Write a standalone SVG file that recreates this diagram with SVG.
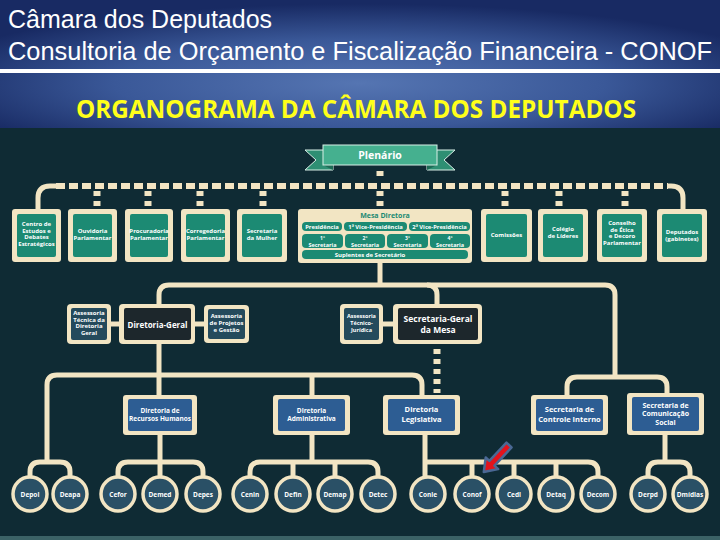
<svg xmlns="http://www.w3.org/2000/svg" width="720" height="540" viewBox="0 0 720 540">
<defs>
<radialGradient id="hdr" cx="50%" cy="65%" r="62%" fx="50%" fy="65%">
<stop offset="0" stop-color="#5575b2"/>
<stop offset="0.55" stop-color="#3a5898"/>
<stop offset="1" stop-color="#182a63"/>
</radialGradient>
<style>
.cr{fill:#f2e5c3}
.tl{fill:#1c8a73}
.sl{fill:#244a5c}
.dk{fill:#1d272c}
.bl{fill:#2d5d93}
.ln{fill:none;stroke:#f2e5c3;stroke-width:5;stroke-linecap:butt}
.dh{fill:none;stroke:#f2e5c3;stroke-width:6;stroke-dasharray:9 4}
.dv{fill:none;stroke:#f2e5c3;stroke-width:7;stroke-dasharray:5 5}
.cc{fill:#2a5066;stroke:#f2e5c3;stroke-width:3.5}
.t{font-family:"Open Sans","Liberation Sans",sans-serif;font-weight:bold;fill:#ffffff;text-anchor:middle}
.s5{font-size:5px}
.s6{font-size:6px}
.s7{font-size:7px}
.tt{font-family:"Open Sans","Liberation Sans",sans-serif;font-weight:bold;fill:#1c8a73;text-anchor:middle}
</style>
</defs>
<rect x="0" y="0" width="720" height="540" fill="#0f2b34"/>
<rect x="0" y="0" width="720" height="128" fill="url(#hdr)"/>
<rect x="0" y="69" width="720" height="4" fill="#ffffff"/>
<rect x="0" y="536" width="720" height="4" fill="#3b6266"/>
<text x="8" y="28" font-family="Liberation Sans, Arial, sans-serif" font-size="25" fill="#ffffff">Câmara dos Deputados</text>
<text x="8" y="60" font-family="Liberation Sans, Arial, sans-serif" font-size="25" fill="#ffffff" textLength="704" lengthAdjust="spacingAndGlyphs">Consultoria de Orçamento e Fiscalização Financeira - CONOF</text>
<text x="76" y="118" font-family="Open Sans, Liberation Sans, sans-serif" font-weight="bold" font-size="25" fill="#ffff1a" textLength="560" lengthAdjust="spacingAndGlyphs">ORGANOGRAMA DA CÂMARA DOS DEPUTADOS</text>

<g id="connectors">
<path class="dh" d="M56,186 H668"/>
<path class="ln" d="M38,210 V198 Q38,186 50,186 H56" stroke-width="6"/>
<path class="ln" d="M683,210 V198 Q683,186 671,186 H668" stroke-width="6"/>
<path class="dv" d="M380,171 V181 M380,191 V209"/>
<path class="dv" d="M97,191 V209 M148,191 V209 M200,191 V209 M263,191 V209 M505,191 V209 M559,191 V209 M625,191 V209"/>
<path class="ln" d="M380,263 V285"/>
<path class="ln" d="M159,304 V295 Q159,285 169,285 H605 Q615,285 615,295 V377"/>
<path class="ln" d="M427,285 Q437,285 437,295 V304"/>
<path class="ln" d="M567,395 V387 Q567,377 577,377 H657 Q667,377 667,387 V395"/>
<path class="ln" d="M111,324 H119 M195,324 H204 M383,324 H393"/>
<path class="dv" d="M437,349 V393" stroke-width="6" stroke-dasharray="5 3"/>
<path class="ln" d="M159,344 V395"/>
<path class="ln" d="M47,462 V385 Q47,375 57,375 H412 Q422,375 422,385 V395"/>
<path class="ln" d="M312,375 V395"/>
<path class="ln" d="M30,477 V472 Q30,462 40,462 H60 Q70,462 70,472 V477"/>
<path class="ln" d="M160,435 V477 M118,477 V472 Q118,462 128,462 H193 Q203,462 203,472 V477"/>
<path class="ln" d="M312,435 V462 M250,477 V472 Q250,462 260,462 H368 Q378,462 378,472 V477 M293,462 V477 M335,462 V477"/>
<path class="ln" d="M425,435 V477 M425,462 H588 Q598,462 598,472 V477 M472,462 V477 M514,462 V477 M556,462 V477"/>
<path class="ln" d="M665,435 V462 M648,477 V472 Q648,462 658,462 H680 Q690,462 690,472 V477"/>
</g>

<g id="plenario">
<polygon points="305,150 333,150 333,170 305,170 316,160" fill="#2e8f73" stroke="#d8efe6" stroke-width="1"/>
<polygon points="455,150 427,150 427,170 455,170 444,160" fill="#2e8f73" stroke="#d8efe6" stroke-width="1"/>
<polygon points="323,165 333,170 333,165" fill="#1d6a55"/>
<polygon points="437,165 427,170 427,165" fill="#1d6a55"/>
<rect x="323" y="145" width="114" height="20" fill="#45b08f" stroke="#d8efe6" stroke-width="1"/>
<text class="t" x="380" y="159" font-size="10.5">Plenário</text>
</g>

<g id="centro-estudos">
<rect class="cr" x="12" y="209" width="49" height="53" rx="3"/>
<rect class="tl" x="17" y="214" width="39" height="43" rx="2"/>
<text class="t s6"><tspan x="36.5" y="226">Centro de</tspan><tspan x="36.5" y="232.5">Estudos e</tspan><tspan x="36.5" y="239">Debates</tspan><tspan x="36.5" y="245.5">Estratégicos</tspan></text>
</g>
<g id="ouvidoria">
<rect class="cr" x="68" y="209" width="49" height="53" rx="3"/>
<rect class="tl" x="73" y="214" width="39" height="43" rx="2"/>
<text class="t s6"><tspan x="92.5" y="233">Ouvidoria</tspan><tspan x="92.5" y="239.5">Parlamentar</tspan></text>
</g>
<g id="procuradoria">
<rect class="cr" x="125" y="209" width="48" height="53" rx="3"/>
<rect class="tl" x="130" y="214" width="38" height="43" rx="2"/>
<text class="t s6"><tspan x="149" y="233">Procuradoria</tspan><tspan x="149" y="239.5">Parlamentar</tspan></text>
</g>
<g id="corregedoria">
<rect class="cr" x="181" y="209" width="49" height="53" rx="3"/>
<rect class="tl" x="186" y="214" width="39" height="43" rx="2"/>
<text class="t s6"><tspan x="205.5" y="233">Corregedoria</tspan><tspan x="205.5" y="239.5">Parlamentar</tspan></text>
</g>
<g id="secretaria-mulher">
<rect class="cr" x="237" y="209" width="50" height="53" rx="3"/>
<rect class="tl" x="242" y="214" width="40" height="43" rx="2"/>
<text class="t s6"><tspan x="262" y="233">Secretaria</tspan><tspan x="262" y="239.5">da Mulher</tspan></text>
</g>

<g id="mesa-diretora">
<rect class="cr" x="298" y="209" width="174" height="54" rx="3"/>
<text class="tt s7" x="385" y="218">Mesa Diretora</text>
<rect class="tl" x="302" y="222" width="40" height="9" rx="4"/>
<rect class="tl" x="344" y="222" width="63" height="9" rx="4"/>
<rect class="tl" x="409" y="222" width="61" height="9" rx="4"/>
<text class="t" font-size="5.8" x="322" y="229">Presidência</text>
<text class="t" font-size="5.8" x="375.5" y="229">1ª Vice-Presidência</text>
<text class="t" font-size="5.8" x="439.5" y="229">2ª Vice-Presidência</text>
<rect class="tl" x="302" y="234" width="41" height="14" rx="4"/>
<rect class="tl" x="345" y="234" width="40" height="14" rx="4"/>
<rect class="tl" x="387" y="234" width="41" height="14" rx="4"/>
<rect class="tl" x="430" y="234" width="40" height="14" rx="4"/>
<text class="t s5" x="322.5" y="239.5">1ª</text><text class="t" font-size="5.5" x="322.5" y="246.5">Secretaria</text>
<text class="t s5" x="365" y="239.5">2ª</text><text class="t" font-size="5.5" x="365" y="246.5">Secretaria</text>
<text class="t s5" x="407.5" y="239.5">3ª</text><text class="t" font-size="5.5" x="407.5" y="246.5">Secretaria</text>
<text class="t s5" x="450" y="239.5">4ª</text><text class="t" font-size="5.5" x="450" y="246.5">Secretaria</text>
<rect class="tl" x="302" y="250" width="166" height="9" rx="4"/>
<text class="t s6" x="370" y="257">Suplentes de Secretário</text>
</g>

<g id="comissoes">
<rect class="cr" x="481" y="209" width="51" height="53" rx="3"/>
<rect class="tl" x="486" y="214" width="41" height="43" rx="2"/>
<text class="t s6" x="506.5" y="236.5">Comissões</text>
</g>
<g id="colegio-lideres">
<rect class="cr" x="538" y="209" width="50" height="53" rx="3"/>
<rect class="tl" x="543" y="214" width="40" height="43" rx="2"/>
<text class="t s6"><tspan x="563" y="231">Colégio</tspan><tspan x="563" y="237.5">de Líderes</tspan></text>
</g>
<g id="conselho-etica">
<rect class="cr" x="597" y="209" width="50" height="53" rx="3"/>
<rect class="tl" x="602" y="214" width="40" height="43" rx="2"/>
<text class="t s6"><tspan x="622" y="225">Conselho</tspan><tspan x="622" y="231.5">de Ética</tspan><tspan x="622" y="238">e Decoro</tspan><tspan x="622" y="244.5">Parlamentar</tspan></text>
</g>
<g id="deputados">
<rect class="cr" x="657" y="209" width="50" height="53" rx="3"/>
<rect class="tl" x="662" y="214" width="40" height="43" rx="2"/>
<text class="t s6"><tspan x="682" y="234">Deputados</tspan><tspan x="682" y="241">(gabinetes)</tspan></text>
</g>

<g id="assessoria-tecnica-dg">
<rect class="cr" x="67" y="304" width="44" height="40" rx="4"/>
<rect class="sl" x="71" y="308" width="36" height="32" rx="2"/>
<text class="t s6"><tspan x="89" y="315">Assessoria</tspan><tspan x="89" y="321.5">Técnica da</tspan><tspan x="89" y="328">Diretoria</tspan><tspan x="89" y="334.5">Geral</tspan></text>
</g>
<g id="diretoria-geral">
<rect class="cr" x="119" y="304" width="76" height="40" rx="4"/>
<rect class="dk" x="124" y="308" width="67" height="32" rx="2"/>
<text class="t" x="157.5" y="327.5" font-size="8.5" textLength="60" lengthAdjust="spacingAndGlyphs">Diretoria-Geral</text>
</g>
<g id="assessoria-projetos">
<rect class="cr" x="204" y="305" width="45" height="38" rx="4"/>
<rect class="sl" x="208" y="309" width="37" height="30" rx="2"/>
<text class="t s6"><tspan x="226.5" y="318">Assessoria</tspan><tspan x="226.5" y="325">de Projetos</tspan><tspan x="226.5" y="332">e Gestão</tspan></text>
</g>
<g id="assessoria-tecnico-juridica">
<rect class="cr" x="340" y="304" width="43" height="40" rx="4"/>
<rect class="sl" x="344" y="308" width="35" height="32" rx="2"/>
<text class="t" font-size="5.5"><tspan x="361.5" y="318">Assessoria</tspan><tspan x="361.5" y="325">Técnico-</tspan><tspan x="361.5" y="332">Jurídica</tspan></text>
</g>
<g id="secretaria-geral-mesa">
<rect class="cr" x="393" y="304" width="89" height="40" rx="4"/>
<rect class="dk" x="398" y="308" width="80" height="32" rx="2"/>
<text class="t" font-size="8.5"><tspan x="438" y="322">Secretaria-Geral</tspan><tspan x="438" y="333">da Mesa</tspan></text>
</g>

<g id="diretoria-rh">
<rect class="cr" x="123" y="395" width="74" height="40" rx="3"/>
<rect class="bl" x="128" y="399" width="64" height="32" rx="2"/>
<text class="t" font-size="6.5"><tspan x="160" y="413">Diretoria de</tspan><tspan x="160" y="421">Recursos Humanos</tspan></text>
</g>
<g id="diretoria-administrativa">
<rect class="cr" x="273" y="395" width="77" height="40" rx="3"/>
<rect class="bl" x="278" y="399" width="67" height="32" rx="2"/>
<text class="t" font-size="6.5"><tspan x="311.5" y="413">Diretoria</tspan><tspan x="311.5" y="421">Administrativa</tspan></text>
</g>
<g id="diretoria-legislativa">
<rect class="cr" x="383" y="395" width="77" height="40" rx="3"/>
<rect class="bl" x="388" y="399" width="67" height="32" rx="2"/>
<text class="t" font-size="7.5"><tspan x="421.5" y="412">Diretoria</tspan><tspan x="421.5" y="422">Legislativa</tspan></text>
</g>
<g id="secretaria-controle-interno">
<rect class="cr" x="531" y="395" width="77" height="40" rx="3"/>
<rect class="bl" x="536" y="399" width="67" height="32" rx="2"/>
<text class="t" font-size="7.5"><tspan x="569.5" y="412">Secretaria de</tspan><tspan x="569.5" y="422">Controle Interno</tspan></text>
</g>
<g id="secretaria-comunicacao">
<rect class="cr" x="627" y="393" width="77" height="42" rx="3"/>
<rect class="bl" x="632" y="397" width="67" height="34" rx="2"/>
<text class="t" font-size="7"><tspan x="665.5" y="407.5">Secretaria de</tspan><tspan x="665.5" y="416">Comunicação</tspan><tspan x="665.5" y="424.5">Social</tspan></text>
</g>

<g id="depol"><circle class="cc" cx="30" cy="494" r="17"/><text class="t" font-size="6.5" x="30" y="496.5">Depol</text></g>
<g id="deapa"><circle class="cc" cx="70" cy="494" r="17"/><text class="t" font-size="6.5" x="70" y="496.5">Deapa</text></g>
<g id="cefor"><circle class="cc" cx="118" cy="494" r="17"/><text class="t" font-size="6.5" x="118" y="496.5">Cefor</text></g>
<g id="demed"><circle class="cc" cx="160" cy="494" r="17"/><text class="t" font-size="6.5" x="160" y="496.5">Demed</text></g>
<g id="depes"><circle class="cc" cx="203" cy="494" r="17"/><text class="t" font-size="6.5" x="203" y="496.5">Depes</text></g>
<g id="cenin"><circle class="cc" cx="250" cy="494" r="17"/><text class="t" font-size="6.5" x="250" y="496.5">Cenin</text></g>
<g id="defin"><circle class="cc" cx="293" cy="494" r="17"/><text class="t" font-size="6.5" x="293" y="496.5">Defin</text></g>
<g id="demap"><circle class="cc" cx="335" cy="494" r="17"/><text class="t" font-size="6.5" x="335" y="496.5">Demap</text></g>
<g id="detec"><circle class="cc" cx="378" cy="494" r="17"/><text class="t" font-size="6.5" x="378" y="496.5">Detec</text></g>
<g id="conle"><circle class="cc" cx="428" cy="494" r="17"/><text class="t" font-size="6.5" x="428" y="496.5">Conle</text></g>
<g id="conof"><circle class="cc" cx="472" cy="494" r="17"/><text class="t" font-size="6.5" x="472" y="496.5">Conof</text></g>
<g id="cedi"><circle class="cc" cx="514" cy="494" r="17"/><text class="t" font-size="6.5" x="514" y="496.5">Cedi</text></g>
<g id="detaq"><circle class="cc" cx="556" cy="494" r="17"/><text class="t" font-size="6.5" x="556" y="496.5">Detaq</text></g>
<g id="decom"><circle class="cc" cx="598" cy="494" r="17"/><text class="t" font-size="6.5" x="598" y="496.5">Decom</text></g>
<g id="derpd"><circle class="cc" cx="648" cy="494" r="17"/><text class="t" font-size="6.5" x="648" y="496.5">Derpd</text></g>
<g id="dmidias"><circle class="cc" cx="690" cy="494" r="17"/><text class="t" font-size="6.5" x="690" y="496.5">Dmídias</text></g>

<g id="red-arrow">
<polygon transform="translate(509,445) rotate(133)" points="0,-3.5 25,-3.5 25,-8.5 37,0 25,8.5 25,3.5 0,3.5" fill="#e3131c" stroke="#4a6894" stroke-width="2.5" stroke-linejoin="round"/>
</g>
</svg>
